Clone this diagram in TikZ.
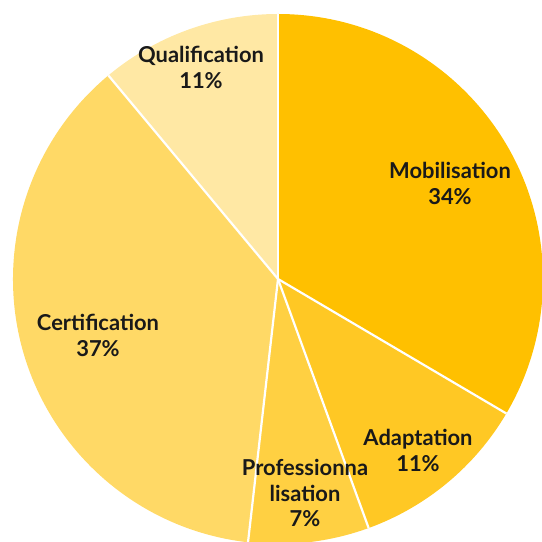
\documentclass[tikz,border=0pt]{standalone}
\usepackage{fontspec}
\setmainfont{Lato}[UprightFont=* Bold]
\definecolor{cMob}{HTML}{FFC000}
\definecolor{cAda}{HTML}{FFC824}
\definecolor{cPro}{HTML}{FFD042}
\definecolor{cCer}{HTML}{FFD966}
\definecolor{cQua}{HTML}{FFE8A4}
\begin{document}
\begin{tikzpicture}[x=1bp,y=-1bp,
  slice/.style={draw=white,line width=2.2bp,line join=round},
  lab/.style={align=center,font=\fontsize{22}{26}\selectfont,text=black!90,inner sep=0pt}]
\useasboundingbox (0,0) rectangle (542,542);
\coordinate (c) at (278,279);
\def\R{265}
\begin{scope}
\clip (0,0) rectangle (542,542);
\fill[cMob] (c) -- +(-90:\R) arc[start angle=-90,end angle=30.5,radius=\R] -- cycle;
\fill[cAda] (c) -- +(30.5:\R) arc[start angle=30.5,end angle=70,radius=\R] -- cycle;
\fill[cPro] (c) -- +(70:\R) arc[start angle=70,end angle=96.5,radius=\R] -- cycle;
\fill[cCer] (c) -- +(96.5:\R) arc[start angle=96.5,end angle=230.2,radius=\R] -- cycle;
\fill[cQua] (c) -- +(230.2:\R) arc[start angle=230.2,end angle=270,radius=\R] -- cycle;
\foreach \a in {-90,30.5,70,96.5,230.2}
  \draw[slice] (c) -- +(\a:\R);
\end{scope}
\node[lab] (qua) at (201,67) {Qualification\\11\%};
\node[lab] (mob) at (450,183) {Mobilisation\\34\%};
\node[lab] (ada) at (418,450) {Adaptation\\11\%};
\node[lab] (pro) at (305,493) {Professionna\\lisation\\7\%};
\node[lab] (cer) at (98,335) {Certification\\37\%};
\end{tikzpicture}
\end{document}
